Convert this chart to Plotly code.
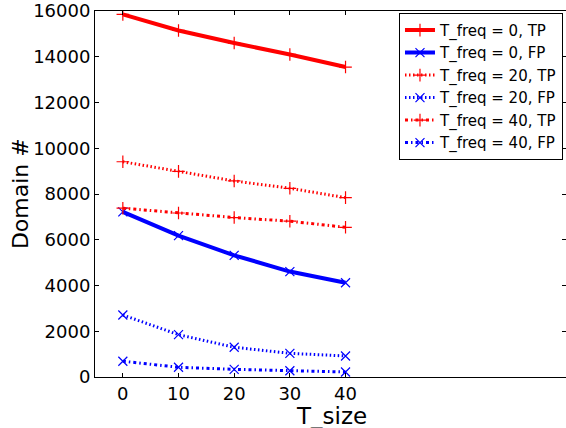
import plotly.graph_objects as go

t_size = [0, 10, 20, 30, 40]
tp_freq0 = [15850, 15150, 14600, 14100, 13550]
fp_freq0 = [7220, 6180, 5320, 4610, 4120]
tp_freq20 = [9410, 8990, 8570, 8250, 7840]
fp_freq20 = [2710, 1850, 1300, 1035, 920]
tp_freq40 = [7380, 7170, 6970, 6810, 6545]
fp_freq40 = [690, 425, 335, 275, 220]
y_ticks = [0, 2000, 4000, 6000, 8000, 10000, 12000, 14000, 16000]

series = [
    ("T_freq = 0, TP", tp_freq0, "#ff0000", "solid", 4, "cross-thin"),
    ("T_freq = 0, FP", fp_freq0, "#0000ff", "solid", 4, "x-thin"),
    ("T_freq = 20, TP", tp_freq20, "#ff0000", "1.5px,2.5px", 3, "cross-thin"),
    ("T_freq = 20, FP", fp_freq20, "#0000ff", "1.5px,2.5px", 3, "x-thin"),
    ("T_freq = 40, TP", tp_freq40, "#ff0000", "3px,3px,1.5px,3px", 3, "cross-thin"),
    ("T_freq = 40, FP", fp_freq40, "#0000ff", "3px,3px,1.5px,3px", 3, "x-thin"),
]

fig = go.Figure()
for name, vals, color, dash, lw, sym in series:
    fig.add_trace(go.Scatter(
        x=t_size, y=vals, name=name, mode="lines+markers",
        line=dict(color=color, width=lw, dash=dash),
        marker=dict(symbol=sym, size=9, color=color,
                    line=dict(color=color, width=1.2)),
    ))

font = "DejaVu Sans, sans-serif"
fig.update_layout(
    width=566, height=428,
    margin=dict(l=95, r=0, t=11, b=51, autoexpand=False),
    paper_bgcolor="white", plot_bgcolor="white",
    font=dict(family=font, size=18, color="black"),
    showlegend=True,
    legend=dict(
        x=0.9936, y=0.995, xanchor="right", yanchor="top",
        bgcolor="white", bordercolor="black", borderwidth=1,
        font=dict(family=font, size=15, color="black"),
        tracegroupgap=0,
    ),
    xaxis=dict(
        range=[-5, 79.6], tickvals=t_size, ticktext=[str(v) for v in t_size],
        showgrid=False, zeroline=False, automargin=False,
        showline=True, linecolor="black", linewidth=1, mirror="ticks",
        ticks="inside", ticklen=4, tickcolor="black",
    ),
    yaxis=dict(
        range=[0, 16000], tickvals=y_ticks, ticktext=[str(v) for v in y_ticks],
        showgrid=False, zeroline=False, automargin=False,
        showline=True, linecolor="black", linewidth=1, mirror="ticks",
        ticks="inside", ticklen=4, tickcolor="black",
        ticklabeloverflow="allow",
    ),
    annotations=[
        dict(text="T_size", xref="paper", yref="paper", x=0.502, y=-0.067,
             xanchor="center", yanchor="top", showarrow=False, borderpad=0,
             font=dict(family=font, size=23, color="black")),
        dict(text="Domain #", xref="paper", yref="paper", x=-0.159, y=0.5,
             xanchor="center", yanchor="middle", showarrow=False, textangle=-90,
             borderpad=0, font=dict(family=font, size=22, color="black")),
    ],
)

fig.write_html("out.html", config={"displayModeBar": False},
               post_script="document.body.style.margin='0';")
